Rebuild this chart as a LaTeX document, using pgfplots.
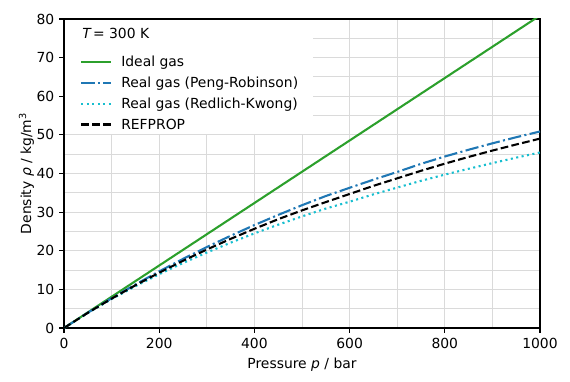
\documentclass[border=0pt]{standalone}
\usepackage{fontspec}
\setmainfont{DejaVu Sans}
\usepackage{pgfplots}
\pgfplotsset{compat=1.18}
\definecolor{tabgreen}{HTML}{2CA02C}
\definecolor{tabblue}{HTML}{1F77B4}
\definecolor{tabcyan}{HTML}{17BECF}
\definecolor{gridgray}{HTML}{DADADA}
\begin{document}
\fontsize{13.9bp}{16.7bp}\selectfont
\begin{tikzpicture}
\begin{axis}[
  name=ax,
  scale only axis,
  width=476bp, height=309bp,
  xmin=0, xmax=1000, ymin=0, ymax=80,
  xtick={0,200,...,1000}, ytick={0,10,...,80},
  minor xtick={100,300,...,900},
  minor ytick={5,15,...,75},
  grid=both,
  grid style={gridgray, line width=1bp},
  major tick length=4.9bp, minor tick length=0pt,
  tick align=outside, tick pos=left,
  axis line style={line width=1.1bp, black},
  every tick/.style={line width=1.1bp, black},
  /pgf/number format/assume math mode=true,
  /pgf/number format/1000 sep={},
  scaled ticks=false,
  xlabel={Pressure {\itshape p} / bar},
  ylabel={Density {\itshape ρ} / kg/m\textsuperscript{3}},
  ylabel shift={-7bp},
  legend cell align=left,
  legend image code/.code={\draw[#1] (0bp,0bp) -- (30bp,0bp);},
  legend style={at={(0,1)}, anchor=north west, xshift=1bp, yshift=-1bp,
    fill=white, draw=none,
    inner xsep=15bp, inner ysep=3bp, row sep=7bp,
    nodes={inner sep=0bp, execute at begin node=\strut},
    /tikz/every odd column/.append style={column sep=9bp}},
]
\addlegendimage{empty legend}
\addlegendentry{\hspace{-39bp}\rule{0pt}{23bp}\raisebox{8bp}{{\itshape T}\,=\ 300 K}}

\addplot[tabgreen, line width=2.08bp] coordinates {
(0,0) (100,8.09) (200,16.18) (300,24.27) (400,32.36) (500,40.45) (600,48.54) (700,56.63) (800,64.72) (900,72.81) (1000,80.9)};
\addlegendentry{Ideal gas}

\addplot[tabblue, line width=2.08bp, dash pattern=on 13.3bp off 3.33bp on 2.08bp off 3.33bp] coordinates {
(0,0) (50,3.95) (100,7.70) (150,11.27) (200,14.66) (250,17.89) (300,20.96) (350,23.87) (400,26.65) (450,29.28) (500,31.79) (550,34.17) (600,36.3) (650,38.4) (700,40.4) (750,42.5) (800,44.4) (850,46.15) (900,47.81) (950,49.39) (1000,50.88)};
\addlegendentry{Real gas (Peng-Robinson)}

\addplot[tabcyan, line width=2.08bp, dash pattern=on 2.08bp off 3.44bp] coordinates {
(0,0) (50,3.89) (100,7.48) (150,10.81) (200,13.92) (250,16.82) (300,19.53) (350,22.08) (400,24.49) (450,26.75) (500,28.89) (550,30.92) (600,32.7) (650,34.6) (700,36.35) (750,38.10) (800,39.71) (850,41.22) (900,42.69) (950,44.10) (1000,45.45)};
\addlegendentry{Real gas (Redlich-Kwong)}

\addplot[black, line width=2.08bp, dash pattern=on 7.7bp off 3.33bp] coordinates {
(0,0) (50,3.92) (100,7.60) (150,11.06) (200,14.32) (250,17.40) (300,20.31) (350,23.07) (400,25.68) (450,28.17) (500,30.45) (550,32.6) (600,34.7) (650,36.8) (700,38.75) (750,40.7) (800,42.55) (850,44.29) (900,45.94) (950,47.51) (1000,49.03)};
\addlegendentry{REFPROP}
\end{axis}
\pgfresetboundingbox
\path[use as bounding box] ([shift={(-64bp,-54bp)}]ax.south west) rectangle ([shift={(30bp,19bp)}]ax.north east);
\end{tikzpicture}
\end{document}
